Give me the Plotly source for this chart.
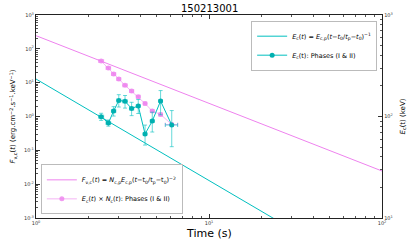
import plotly.graph_objects as go

# ---- data ----
t_data = [2.38, 2.62, 2.81, 3.01, 3.27, 3.57, 3.90, 4.27, 4.70, 5.25, 6.09]
t_err = [0.08, 0.08, 0.08, 0.08, 0.1, 0.1, 0.1, 0.1, 0.12, 0.12, 0.5]

ec_vals = [99.6, 86.3, 113, 144, 141, 120, 127, 67.3, 90.3, 142, 82.4]
ec_err = [8, 6, 12, 20, 20, 18, 20, 15, 20, 38, 32]

f_vals = [43.7, 27.1, 18.0, 12.8, 8.36, 5.66, 3.85, 2.42, 1.45, 1.15, 0.58]
f_err = [3.5, 2.2, 1.5, 1.1, 0.7, 0.5, 0.35, 0.22, 0.14, 0.11, 0.06]

# model lines (end points read at t = 1 s and t = 100 s)
t_model = [1, 100]
ec_model = [234, 2.34]
f_model = [245, 0.0245]

x_ticks = [1, 10, 100]
x_tick_text = ["10<sup>0</sup>", "10<sup>1</sup>", "10<sup>2</sup>"]
yl_ticks = [1e-3, 1e-2, 1e-1, 1, 10, 100, 1000]
yl_tick_text = ["10<sup>-3</sup>", "10<sup>-2</sup>", "10<sup>-1</sup>", "10<sup>0</sup>",
                "10<sup>1</sup>", "10<sup>2</sup>", "10<sup>3</sup>"]
yr_ticks = [10, 100, 1000]
yr_tick_text = ["10<sup>1</sup>", "10<sup>2</sup>", "10<sup>3</sup>"]

CYAN = "#00BFBF"
VIOLET = "#EE82EE"


def minor_vals(lo, hi):
    out = []
    for e in range(lo, hi):
        for m in range(2, 10):
            out.append(m * 10 ** e)
    return out


fig = go.Figure()

fig.add_trace(go.Scatter(
    x=t_model, y=ec_model, mode="lines", yaxis="y2",
    line=dict(color=CYAN, width=1),
    name="<i>E</i><sub>c</sub>(<i>t</i>) = <i>E</i><sub>c,p</sub>(<i>t</i>−<i>t</i><sub>0</sub>/<i>t</i><sub>p</sub>−<i>t</i><sub>0</sub>)<sup>−1</sup>",
    legend="legend",
))
fig.add_trace(go.Scatter(
    x=t_data, y=ec_vals, mode="lines+markers", yaxis="y2",
    line=dict(color=CYAN, width=1),
    marker=dict(color="#00B0B0", size=5, symbol="circle"),
    error_y=dict(type="data", array=ec_err, color="rgba(0,191,191,0.6)", thickness=1, width=2),
    error_x=dict(type="data", array=t_err, color="rgba(0,191,191,0.6)", thickness=1, width=2),
    name="<i>E</i><sub>c</sub>(t): Phases (I &amp; II)",
    legend="legend",
))
fig.add_trace(go.Scatter(
    x=t_model, y=f_model, mode="lines", yaxis="y",
    line=dict(color=VIOLET, width=1),
    name="<i>F</i><sub>ν,c</sub>(<i>t</i>) = <i>N</i><sub>c,p</sub><i>E</i><sub>c,p</sub>(<i>t</i>−t<sub>0</sub>/t<sub>p</sub>−t<sub>0</sub>)<sup>−2</sup>",
    legend="legend2",
))
fig.add_trace(go.Scatter(
    x=t_data, y=f_vals, mode="lines+markers", yaxis="y",
    line=dict(color="rgba(238,130,238,0.6)", width=1),
    marker=dict(color="rgba(238,130,238,0.8)", size=5, symbol="circle"),
    error_y=dict(type="data", array=f_err, color="rgba(238,130,238,0.6)", thickness=1, width=2),
    error_x=dict(type="data", array=t_err, color="rgba(238,130,238,0.6)", thickness=1, width=2),
    name="<i>E</i><sub>c</sub>(<i>t</i>) × <i>N</i><sub>c</sub>(<i>t</i>): Phases (I &amp; II)",
    legend="legend2",
))

axis_common = dict(
    type="log", showgrid=False, zeroline=False, automargin=False,
    ticks="inside", ticklen=4, tickcolor="#333", tickwidth=1,
    showline=True, linecolor="#222", linewidth=1.3,
    tickfont=dict(size=5, color="#333", family="DejaVu Sans"),
)

fig.update_layout(
    width=415, height=249,
    margin=dict(l=36, r=33, t=15, b=31),
    paper_bgcolor="white", plot_bgcolor="white",
    font=dict(family="DejaVu Sans", color="black"),
    hovermode=False,
    xaxis=dict(
        **axis_common, range=[0, 2], mirror="ticks",
        tickvals=x_ticks, ticktext=x_tick_text,
        minor=dict(tickvals=minor_vals(0, 2), ticks="inside", ticklen=2, tickcolor="#555"),
    ),
    yaxis=dict(
        **axis_common, range=[-3, 3],
        tickvals=yl_ticks, ticktext=yl_tick_text,
        minor=dict(tickvals=minor_vals(-3, 3), ticks="inside", ticklen=2, tickcolor="#555"),
    ),
    yaxis2=dict(
        **axis_common, range=[1, 3], overlaying="y", side="right",
        tickvals=yr_ticks, ticktext=yr_tick_text,
        minor=dict(tickvals=minor_vals(1, 3), ticks="inside", ticklen=2, tickcolor="#555"),
    ),
    legend=dict(
        x=0.986, y=0.972, xanchor="right", yanchor="top",
        bgcolor="white", bordercolor="#BBBBBB", borderwidth=1,
        font=dict(size=6.5), itemwidth=30, tracegroupgap=0,
    ),
    legend2=dict(
        x=0.014, y=0.018, xanchor="left", yanchor="bottom",
        bgcolor="white", bordercolor="#BBBBBB", borderwidth=1,
        font=dict(size=6.5), itemwidth=30, tracegroupgap=0,
    ),
    annotations=[
        dict(
            text="150213001", x=0.5, y=1.0, xref="paper", yref="paper",
            xanchor="center", yanchor="bottom", yshift=-1, showarrow=False,
            font=dict(size=10, color="black"),
        ),
        dict(
            text="Time (s)", x=0.5, y=0.0, xref="paper", yref="paper",
            xanchor="center", yanchor="middle", yshift=-15, showarrow=False,
            font=dict(size=11, color="black"),
        ),
        dict(
            text="<i>F</i><sub>ν,c</sub>(<i>t</i>) (erg.cm<sup>−2</sup>.s<sup>−1</sup>.keV<sup>−1</sup>)",
            x=0.0, y=0.5, xref="paper", yref="paper",
            xanchor="center", yanchor="middle", xshift=-24, showarrow=False, textangle=-90,
            font=dict(size=7, color="black"),
        ),
        dict(
            text="<i>E</i><sub>c</sub>(t) (keV)", x=1.0, y=0.5, xref="paper", yref="paper",
            xanchor="center", yanchor="middle", xshift=20, showarrow=False, textangle=-90,
            font=dict(size=7, color="black"),
        ),
    ],
)

# remove the browser's default page margin so the figure sits at the window's corner
fig.write_html(
    "out.html",
    config={"displayModeBar": False},
    post_script="document.body.style.margin='0';",
)
